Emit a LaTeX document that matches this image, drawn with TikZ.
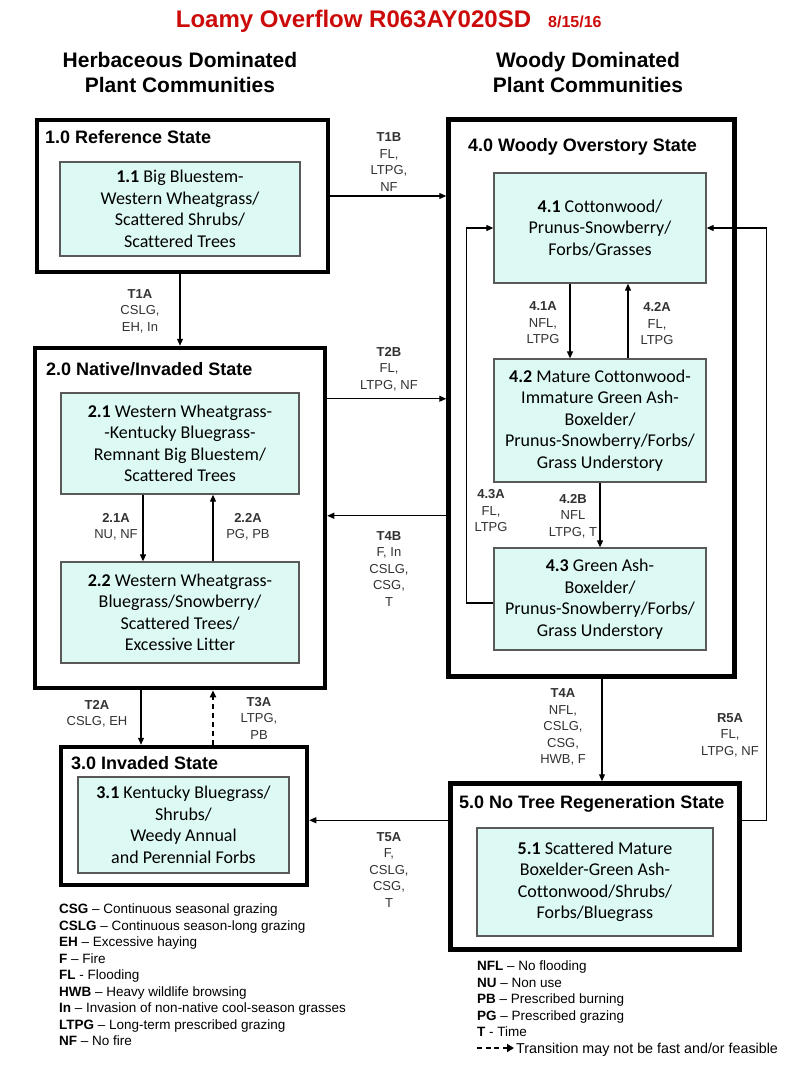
\documentclass[tikz,border=0pt]{standalone}
\usepackage{fontspec}
\setmainfont{Liberation Sans}
\newfontfamily\boxfont[Ligatures=NoCommon]{Carlito}
\usepackage{tikz}
\usetikzlibrary{arrows.meta}
\definecolor{boxfill}{RGB}{220,249,243}
\definecolor{titlered}{RGB}{204,10,10}
\definecolor{labgray}{RGB}{50,50,50}

\begin{document}
\begin{tikzpicture}
        [x=1pt, y=-1pt,
        sstyle/.style={draw, line width=4.5pt, inner sep=0pt},
        cstyle/.style={draw=black!65, line width=1.3pt, fill=boxfill, align=center, inner sep=0pt, font=\boxfont\fontsize{18}{21.5}\selectfont},
        lstyle/.style={anchor=base west, inner sep=0pt, font=\bfseries\fontsize{18}{21}\selectfont},
        hstyle/.style={align=center, font=\bfseries\fontsize{21}{25}\selectfont},
        tstyle/.style={align=center, text=labgray, inner sep=0pt, font=\fontsize{13}{16.5}\selectfont},
        gstyle/.style={align=left, anchor=north west, inner sep=0pt, font=\fontsize{13.5}{16.5}\selectfont},
        dstyle/.style={-{Triangle[length=7pt,width=6pt]}, line width=1.1pt}]

        \useasboundingbox (0,0) rectangle (800,1074);
        \fill[white] (0,0) rectangle (800,1074);

        \node[anchor=base, text=titlered, font=\bfseries\fontsize{24}{28}\selectfont] (title) at (353.5,27) {Loamy Overflow R063AY020SD};
        \node[anchor=base west, text=titlered, font=\bfseries\fontsize{16}{19}\selectfont] (date) at ([xshift=10pt]title.base east) {8/15/16};
        \node[hstyle] (herb)  at (180,72) {Herbaceous Dominated\\Plant Communities};
        \node[hstyle] (wood)  at (588,72) {Woody Dominated\\Plant Communities};

        % states
        \node[sstyle, minimum width=291pt, minimum height=152pt] (ref)     at (182.5,196) {};
        \node[sstyle, minimum width=290pt, minimum height=340pt] (native)  at (180,518) {};
        \node[sstyle, minimum width=246pt, minimum height=138pt] (invaded) at (184,816) {};
        \node[sstyle, minimum width=286pt, minimum height=557pt] (woody)   at (591.5,398) {};
        \node[sstyle, minimum width=289pt, minimum height=166pt] (notree)  at (595,866.5) {};

        \node[lstyle] (reflbl)     at (45,143)  {1.0 Reference State};
        \node[lstyle] (nativelbl)  at (46,375)  {2.0 Native/Invaded State};
        \node[lstyle] (invadedlbl) at (71,769)  {3.0 Invaded State};
        \node[lstyle] (woodylbl)   at (468,151) {4.0 Woody Overstory State};
        \node[lstyle] (notreelbl)  at (459,808) {5.0 No Tree Regeneration State};

        % communities
        \node[cstyle, minimum width=240pt, minimum height=94pt]  (c11) at (180,209)   {\textbf{1.1} Big Bluestem-\\Western Wheatgrass/\\Scattered Shrubs/\\Scattered Trees};
        \node[cstyle, minimum width=238pt, minimum height=101pt] (c21) at (180,443.5) {\textbf{2.1} Western Wheatgrass-\\-Kentucky Bluegrass-\\Remnant Big Bluestem/\\Scattered Trees};
        \node[cstyle, minimum width=238pt, minimum height=101pt] (c22) at (180,612.5) {\textbf{2.2} Western Wheatgrass-\\Bluegrass/Snowberry/\\Scattered Trees/\\Excessive Litter};
        \node[cstyle, minimum width=211pt, minimum height=96pt]  (c31) at (183.5,825) {\textbf{3.1} Kentucky Bluegrass/\\Shrubs/\\Weedy Annual\\and Perennial Forbs};
        \node[cstyle, minimum width=212pt, minimum height=110pt] (c41) at (600,228)   {\textbf{4.1} Cottonwood/\\Prunus-Snowberry/\\Forbs/Grasses};
        \node[cstyle, minimum width=212pt, minimum height=123pt] (c42) at (600,420.5) {\textbf{4.2} Mature Cottonwood-\\Immature Green Ash-\\Boxelder/\\Prunus-Snowberry/Forbs/\\Grass Understory};
        \node[cstyle, minimum width=212pt, minimum height=102pt] (c43) at (600,599)   {\textbf{4.3} Green Ash-\\Boxelder/\\Prunus-Snowberry/Forbs/\\Grass Understory};
        \node[cstyle, minimum width=236pt, minimum height=108pt] (c51) at (595,882)   {\textbf{5.1} Scattered Mature\\Boxelder-Green Ash-\\Cottonwood/Shrubs/\\Forbs/Bluegrass};

        % transition labels
        \node[tstyle] (t1b) at (389,162) {\textbf{T1B}\\FL,\\LTPG,\\NF};
        \node[tstyle] (t1a) at (140,311) {\textbf{T1A}\\CSLG,\\EH, In};
        \node[tstyle] (t2b) at (389,369) {\textbf{T2B}\\FL,\\LTPG, NF};
        \node[tstyle] (t4b) at (389,569) {\textbf{T4B}\\F, In\\CSLG,\\CSG,\\T};
        \node[tstyle] (p21a) at (116,527) {\textbf{2.1A}\\NU, NF};
        \node[tstyle] (p22a) at (248,527) {\textbf{2.2A}\\PG, PB};
        \node[tstyle] (p41a) at (543,323) {\textbf{4.1A}\\NFL,\\LTPG};
        \node[tstyle] (p42a) at (657,324) {\textbf{4.2A}\\FL,\\LTPG};
        \node[tstyle] (p43a) at (491,511) {\textbf{4.3A}\\FL,\\LTPG};
        \node[tstyle] (p42b) at (573,516) {\textbf{4.2B}\\NFL\\LTPG, T};
        \node[tstyle] (t2a) at (97,714)  {\textbf{T2A}\\CSLG, EH};
        \node[tstyle] (t3a) at (259,718) {\textbf{T3A}\\LTPG,\\PB};
        \node[tstyle] (t4a) at (563,727) {\textbf{T4A}\\NFL,\\CSLG,\\CSG,\\HWB, F};
        \node[tstyle] (r5a) at (730,735) {\textbf{R5A}\\FL,\\LTPG, NF};
        \node[tstyle] (t5a) at (389,870) {\textbf{T5A}\\F,\\CSLG,\\CSG,\\T};

        % transitions
        \draw[dstyle] (ref.east) -- (ref.east -| woody.west);
        \draw[dstyle] (native.north |- ref.south) -- (native.north);
        \draw[dstyle] ([yshift=-53pt]native.north east) -- ([yshift=-53pt]native.north east -| woody.west);
        \draw[dstyle] ([yshift=-170pt]native.north east -| woody.west) -- ([yshift=-170pt]native.north east);
        \draw[dstyle] ([xshift=-39pt]native.south) -- ([xshift=-39pt]native.south |- invaded.north);
        \draw[dstyle, line width=1.8pt, dash pattern=on 5pt off 4pt] ([xshift=33pt]native.south |- invaded.north) -- ([xshift=33pt]native.south);
        \draw[dstyle] ([xshift=10.5pt]woody.south) -- ([xshift=10.5pt]woody.south |- notree.north);
        \draw[dstyle] ([yshift=-39pt]notree.north west) -- ([yshift=-39pt]notree.north west -| invaded.east);
        \draw[dstyle] ([yshift=-39pt]notree.north east) -| ([xshift=60pt]c41.east) -- (c41.east);

        % pathways
        \draw[dstyle] ([xshift=-37pt]c21.south) -- ([xshift=-37pt]c22.north);
        \draw[dstyle] ([xshift=33pt]c22.north) -- ([xshift=33pt]c21.south);
        \draw[dstyle] ([xshift=-30pt]c41.south) -- ([xshift=-30pt]c42.north);
        \draw[dstyle] ([xshift=28pt]c42.north) -- ([xshift=28pt]c41.south);
        \draw[dstyle] (c42.south) -- (c43.north);
        \draw[dstyle] ([yshift=-4pt]c43.west) -| ([xshift=-27pt]c41.west) -- (c41.west);

        % legend
        \node[gstyle] (legleft) at (59,904) {\textbf{CSG} – Continuous seasonal grazing\\\textbf{CSLG} – Continuous season-long grazing\\\textbf{EH} – Excessive haying\\\textbf{F} – Fire\\\textbf{FL} - Flooding\\\textbf{HWB} – Heavy wildlife browsing\\\textbf{In} – Invasion of non-native cool-season grasses\\\textbf{LTPG} – Long-term prescribed grazing\\\textbf{NF} – No fire};
        \node[gstyle] (legright) at (477,961) {\textbf{NFL} – No flooding\\\textbf{NU} – Non use\\\textbf{PB} – Prescribed burning\\\textbf{PG} – Prescribed grazing\\\textbf{T} - Time};
        \node[gstyle, anchor=base west, font=\fontsize{14.3}{16.5}\selectfont] (legdash) at (516,1053) {Transition may not be fast and/or feasible};
        \draw[-{Triangle[length=7pt,width=8pt]}, line width=1.8pt, dash pattern=on 5pt off 3.5pt] ([xshift=-39pt,yshift=5pt]legdash.base west) -- ([xshift=-2pt,yshift=5pt]legdash.base west);
    \end{tikzpicture}
\end{document}
